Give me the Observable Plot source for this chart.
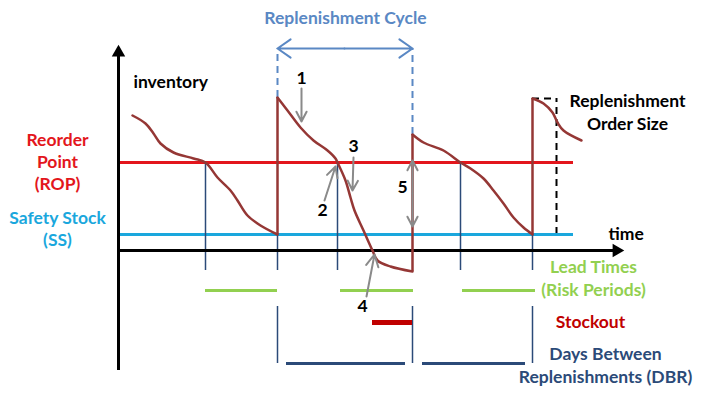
<!DOCTYPE html>
<html><head><meta charset="utf-8">
<script src="https://cdn.jsdelivr.net/npm/d3@7"></script>
<script src="https://cdn.jsdelivr.net/npm/@observablehq/plot@0.6"></script>
<style>body{margin:0;background:#fff}</style></head>
<body><div id="chart"></div>
<script>
// Inventory path (time, inventory units) per replenishment cycle
const curveTime = [14,27,35,42,55,75,87,99,112,119,129,142,159,
  159,169,182,195,209,217,219,227,232,236,245,254,259,272,294,
  294,305,325,342,352,365,375,385,395,405,414,
  414,425,434,439,445,463];
const curveInventory = [135,127,117,107,98,92,88,73,60,50,35,25,16,
  153,140,123,110,100,92,88,70,53,40,20,0,-10,-16,-21,
  116,108,100,88,82,72,60,47,33,23,16,
  152,147,138,128,120,110];
const curveCycle = [1,1,1,1,1,1,1,1,1,1,1,1,1,
  2,2,2,2,2,2,2,2,2,2,2,2,2,2,2,
  3,3,3,3,3,3,3,3,3,3,3,
  4,4,4,4,4,4];
// replenishment arrivals
const jumpTime = [159,294,414];
const jumpFrom = [16,-21,16];
const jumpTo = [153,116,152];
// levels
const reorderPoint = 88;
const safetyStock = 16;
const levelEnd = 455;
// reorder moments (crossing ROP) and arrivals
const reorderTimes = [87,219,342];
const arrivalTimes = [159,294,414];
// lead times (risk periods)
const leadStart = [87,222,344];
const leadEnd = [159,295,417];
// stockout
const stockoutStart = [254];
const stockoutEnd = [294];
// days between replenishments
const dbrStart = [168,304];
const dbrEnd = [287,407];
// numbered annotations
const noteLabels = ["1","2","3","4","5"];
const noteX = [183,204,235,244,284];
const noteY = [172,40,104,-56,63];
const noteArrowX1 = [183,206,235,248,294,294];
const noteArrowY1 = [162,50,93,-46,57,57];
const noteArrowX2 = [183,217,234,256,294,294];
const noteArrowY2 = [129,84,60,-4,90,24];
// text labels
const labelText = ["Replenishment Cycle","Reorder","Point","(ROP)","Safety Stock","(SS)",
  "Replenishment","Order Size","Lead Times","(Risk Periods)","Stockout","Days Between","Replenishments (DBR)"];
const labelX = [227,-61,-61,-61,-61,-61,509,509,475,475,472,487,487];
const labelY = [232,110,88,66,32,10,149,126,-17,-40,-72,-104,-127];
const labelColor = ["#5a88c4","#e3161c","#e3161c","#e3161c","#1aa7dd","#1aa7dd",
  "#000000","#000000","#92d050","#92d050","#c00000","#2b4a78","#2b4a78"];

const curve = curveTime.map((t,i)=>({t, inv: curveInventory[i], cycle: curveCycle[i]}));
const jumps = jumpTime.map((t,i)=>({t, y1: jumpFrom[i], y2: jumpTo[i]}));
const labels = labelText.map((s,i)=>({s, x: labelX[i], y: labelY[i], c: labelColor[i]}));
const notes = noteLabels.map((s,i)=>({s, x: noteX[i], y: noteY[i]}));
const noteArrows = noteArrowX1.map((x1,i)=>({x1, y1: noteArrowY1[i], x2: noteArrowX2[i], y2: noteArrowY2[i]}));
const upperRules = [
  ...reorderTimes.map(t=>({t, y1: reorderPoint, y2: -20})),
  ...[159,414].map(t=>({t, y1: safetyStock, y2: -20}))
];
const font = "Lato, 'Open Sans', sans-serif";
const fs = 17.5;
const cycleTop = 202;

const chart = Plot.plot({
  width: 701, height: 396, margin: 0,
  x: {domain: [-118, 583], axis: null},
  y: {domain: [-146, 250], axis: null},
  color: {type: "identity"},
  marks: [
    // dashed replenishment cycle guides
    Plot.ruleX(arrivalTimes.slice(0,2), {x: d=>d, y1: (d,i)=>jumpTo[i], y2: cycleTop, stroke: "#5a88c4", strokeWidth: 2, strokeDasharray: "7,5"}),
    Plot.arrow([{a:226,b:159},{a:226,b:294}], {x1: "a", x2: "b", y1: cycleTop, y2: cycleTop, stroke: "#5a88c4", strokeWidth: 2, headLength: 12, headAngle: 70}),
    // order size dashed
    Plot.ruleY([152], {x1: 414, x2: 438, stroke: "#000", strokeWidth: 2, strokeDasharray: "7,5"}),
    Plot.ruleX([438], {y1: 16, y2: 152, stroke: "#000", strokeWidth: 2, strokeDasharray: "7,5"}),
    Plot.ruleY([16], {x1: 414, x2: 438, stroke: "#000", strokeWidth: 2, strokeDasharray: "7,5"}),
    // levels
    Plot.ruleY([reorderPoint], {x1: 0, x2: levelEnd, stroke: "#e3161c", strokeWidth: 3}),
    Plot.ruleY([safetyStock], {x1: 0, x2: levelEnd, stroke: "#1aa7dd", strokeWidth: 3}),
    // upper navy verticals
    Plot.ruleX(upperRules, {x: "t", y1: "y1", y2: "y2", stroke: "#2b4a78", strokeWidth: 1.5}),
    // lower navy verticals
    Plot.ruleX(arrivalTimes, {x: d=>d, y1: -56, y2: -113, stroke: "#2b4a78", strokeWidth: 1.5}),
    // DBR
    Plot.ruleY(dbrStart, {x1: d=>d, x2: (d,i)=>dbrEnd[i], y: -113, stroke: "#2b4a78", strokeWidth: 3}),
    // lead times
    Plot.ruleY(leadStart, {x1: d=>d, x2: (d,i)=>leadEnd[i], y: -40, stroke: "#92d050", strokeWidth: 3}),
    // stockout
    Plot.ruleY(stockoutStart, {x1: d=>d, x2: (d,i)=>stockoutEnd[i], y: -72, stroke: "#c00000", strokeWidth: 5}),
    // axes
    Plot.ruleX([0], {y1: -120, y2: 196, stroke: "#000", strokeWidth: 3}),
    Plot.ruleY([0], {x1: 0, x2: 496, stroke: "#000", strokeWidth: 3}),
    Plot.dot([{x:0,y:198}], {x:"x", y:"y", symbol: "triangle", r: 5, fill: "#000", stroke: null}),
    Plot.dot([{x:498,y:0}], {x:"x", y:"y", symbol: "triangle", r: 5, fill: "#000", stroke: null, rotate: 90}),
    // inventory curve
    Plot.line(curve, {x: "t", y: "inv", z: "cycle", curve: "catmull-rom", stroke: "#953735", strokeWidth: 2.5}),
    Plot.ruleX(jumps, {x: "t", y1: "y1", y2: "y2", stroke: "#953735", strokeWidth: 2.5}),
    // grey annotation arrows
    Plot.arrow(noteArrows, {x1: "x1", y1: "y1", x2: "x2", y2: "y2", stroke: "#8a8a8a", strokeWidth: 2, headLength: 10, headAngle: 55}),
    Plot.text(notes, {x: "x", y: "y", text: "s", fontSize: fs, fontWeight: "bold", fontFamily: font, fill: "#000"}),
    // labels
    Plot.text(labels, {x: "x", y: "y", text: "s", fill: "c", fontSize: fs, fontWeight: "bold", fontFamily: font}),
    Plot.text(["inventory"], {x: 15, y: 168, text: d=>d, textAnchor: "start", fontSize: fs, fontWeight: "bold", fontFamily: font, fill: "#000"}),
    Plot.text(["time"], {x: 490, y: 16, text: d=>d, textAnchor: "start", fontSize: fs, fontWeight: "bold", fontFamily: font, fill: "#000"})
  ]
});
document.getElementById("chart").appendChild(chart);
</script></body></html>
